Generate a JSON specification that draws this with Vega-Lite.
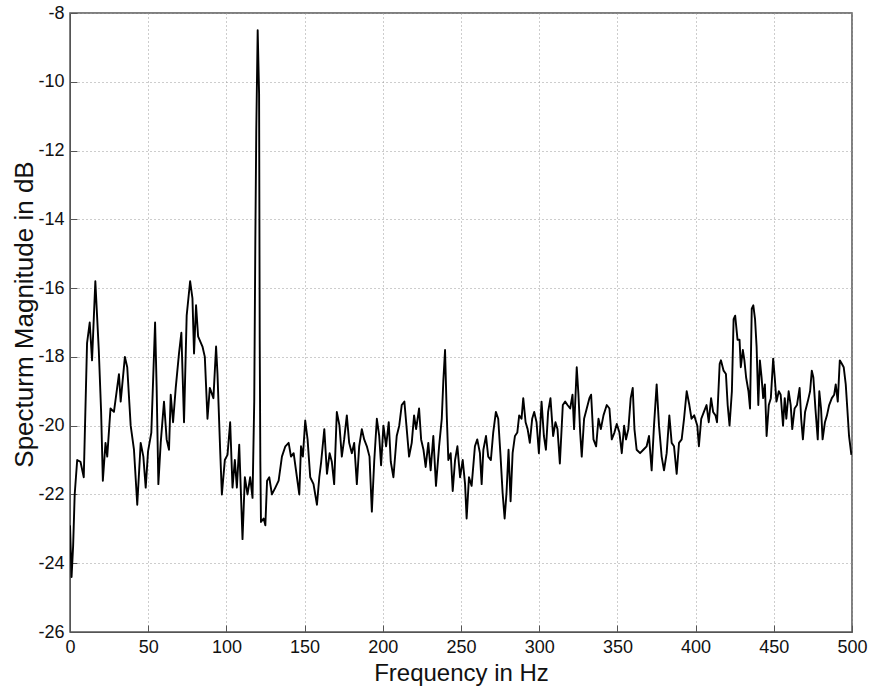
{
  "$schema": "https://vega.github.io/schema/vega-lite/v6.json",
  "width": 782,
  "height": 619,
  "autosize": {"type": "none"},
  "padding": {"left": 70, "top": 13, "right": 18, "bottom": 58},
  "background": "white",
  "config": {
    "view": {"stroke": "#555555", "strokeWidth": 1.5},
    "axis": {
      "labelFont": "Liberation Sans",
      "titleFont": "Liberation Sans",
      "labelFontSize": 18,
      "titleFontWeight": "normal",
      "labelColor": "#111111",
      "titleColor": "#111111",
      "domainColor": "#555555",
      "tickColor": "#555555",
      "tickSize": -7,
      "labelFlush": false,
      "labelOverlap": false,
      "gridColor": "#9a9a9a",
      "gridDash": [1, 3],
      "gridWidth": 1
    }
  },
  "data": {"values": [
    {"f":0,"db":-22.9},{"f":1,"db":-24.4},{"f":2,"db":-23.5},{"f":3,"db":-22.0},{"f":4.6,"db":-21.0},{"f":6.7,"db":-21.05},{"f":8.8,"db":-21.5},{"f":10.9,"db":-17.6},{"f":12.6,"db":-17.0},{"f":14.1,"db":-18.1},{"f":16.2,"db":-15.8},{"f":18.4,"db":-17.8},{"f":19.9,"db":-19.6},{"f":21.0,"db":-21.6},{"f":22.7,"db":-20.5},{"f":23.8,"db":-20.9},{"f":25.9,"db":-19.5},{"f":28.1,"db":-19.6},{"f":31.3,"db":-18.5},{"f":32.4,"db":-19.3},{"f":35.1,"db":-18.0},{"f":36.6,"db":-18.3},{"f":38.8,"db":-20.0},{"f":40.9,"db":-20.7},{"f":43.0,"db":-22.3},{"f":45.2,"db":-20.5},{"f":46.9,"db":-20.9},{"f":48.4,"db":-21.8},{"f":49.9,"db":-20.75},{"f":52.0,"db":-20.2},{"f":54.4,"db":-17.0},{"f":55.4,"db":-18.9},{"f":56.5,"db":-21.7},{"f":58.0,"db":-20.5},{"f":60.1,"db":-19.3},{"f":61.8,"db":-20.4},{"f":63.3,"db":-20.7},{"f":64.4,"db":-19.1},{"f":65.9,"db":-19.9},{"f":67.6,"db":-18.9},{"f":69.7,"db":-17.9},{"f":71.2,"db":-17.3},{"f":72.9,"db":-19.9},{"f":74.6,"db":-16.8},{"f":76.8,"db":-15.8},{"f":78.3,"db":-16.3},{"f":79.3,"db":-17.9},{"f":80.6,"db":-16.5},{"f":81.9,"db":-17.4},
    {"f":84.7,"db":-17.7},{"f":86.2,"db":-18.0},{"f":87.9,"db":-19.8},{"f":89.4,"db":-18.9},{"f":91.7,"db":-19.2},{"f":93.4,"db":-17.7},{"f":94.3,"db":-18.5},{"f":96.0,"db":-20.7},{"f":97.1,"db":-22.0},{"f":99.0,"db":-21.0},{"f":100.7,"db":-20.85},{"f":102.4,"db":-19.9},{"f":103.9,"db":-21.8},{"f":105.4,"db":-21.0},{"f":106.7,"db":-21.8},{"f":108.2,"db":-20.55},{"f":110.3,"db":-23.3},{"f":111.8,"db":-21.5},{"f":113.5,"db":-22.0},{"f":115.2,"db":-21.5},{"f":116.7,"db":-22.1},{"f":117.8,"db":-19.3},
    {"f":118.5,"db":-14.6},{"f":119.1,"db":-11.4},{"f":120.0,"db":-8.5},{"f":120.9,"db":-10.35},{"f":121.3,"db":-17.5},{"f":121.7,"db":-21.05},{"f":122.1,"db":-22.8},{"f":123.8,"db":-22.7},{"f":124.9,"db":-22.9},
    {"f":126.0,"db":-21.6},{"f":127.4,"db":-21.5},{"f":129.1,"db":-22.0},{"f":131.3,"db":-21.8},{"f":133.4,"db":-21.6},{"f":135.5,"db":-20.9},{"f":137.7,"db":-20.6},{"f":139.8,"db":-20.5},{"f":141.3,"db":-20.9},{"f":143.0,"db":-20.8},{"f":145.1,"db":-21.5},{"f":146.6,"db":-22.0},{"f":147.7,"db":-20.6},{"f":148.9,"db":-20.9},{"f":150.4,"db":-19.85},{"f":151.9,"db":-20.4},{"f":153.6,"db":-21.5},{"f":155.7,"db":-21.7},{"f":157.9,"db":-22.3},{"f":159.4,"db":-21.5},{"f":160.6,"db":-21.05},{"f":162.6,"db":-20.1},{"f":164.3,"db":-21.4},{"f":166.0,"db":-20.8},{"f":167.4,"db":-21.05},{"f":168.9,"db":-21.7},{"f":170.6,"db":-19.6},{"f":172.3,"db":-20.0},{"f":173.8,"db":-20.9},{"f":175.3,"db":-20.4},{"f":177.0,"db":-19.7},{"f":178.5,"db":-20.5},{"f":180.2,"db":-20.8},{"f":181.7,"db":-20.5},{"f":183.4,"db":-21.7},{"f":184.9,"db":-20.6},{"f":186.6,"db":-20.1},{"f":188.1,"db":-20.4},{"f":189.8,"db":-20.6},{"f":191.5,"db":-20.9},{"f":193.0,"db":-22.5},{"f":194.5,"db":-21.05},{"f":196.2,"db":-19.8},{"f":197.7,"db":-20.3},{"f":198.9,"db":-21.15},{"f":200.4,"db":-20.0},{"f":202.1,"db":-20.6},{"f":203.8,"db":-19.9},{"f":205.1,"db":-21.05},{"f":206.8,"db":-21.5},{"f":208.9,"db":-20.3},{"f":210.5,"db":-20.0},
    {"f":212.1,"db":-19.4},{"f":213.8,"db":-19.3},{"f":215.3,"db":-20.1},{"f":216.8,"db":-20.9},{"f":218.5,"db":-20.5},{"f":220.0,"db":-19.7},{"f":221.3,"db":-20.1},{"f":223.2,"db":-19.5},{"f":224.5,"db":-20.4},{"f":226.0,"db":-20.7},{"f":227.4,"db":-21.2},{"f":229.1,"db":-20.5},{"f":230.6,"db":-21.3},{"f":232.3,"db":-20.3},{"f":234.0,"db":-21.75},{"f":236.0,"db":-20.6},{"f":237.7,"db":-19.8},{"f":238.7,"db":-18.7},{"f":239.8,"db":-17.8},{"f":240.9,"db":-19.7},{"f":241.9,"db":-21.0},{"f":243.4,"db":-20.8},{"f":244.7,"db":-21.9},{"f":246.2,"db":-21.0},{"f":247.7,"db":-20.6},{"f":249.4,"db":-21.5},{"f":251.1,"db":-21.0},{"f":252.6,"db":-21.7},{"f":253.6,"db":-22.7},{"f":255.1,"db":-21.5},{"f":256.8,"db":-21.75},{"f":258.9,"db":-20.6},{"f":260.4,"db":-20.4},{"f":262.1,"db":-20.8},{"f":263.2,"db":-21.7},{"f":264.3,"db":-20.7},{"f":266.0,"db":-20.3},{"f":267.4,"db":-20.9},{"f":269.1,"db":-21.0},{"f":270.6,"db":-20.2},{"f":272.3,"db":-19.6},{"f":273.8,"db":-19.8},{"f":275.3,"db":-20.9},{"f":276.6,"db":-21.95},{"f":277.9,"db":-22.7},{"f":279.1,"db":-21.95},{"f":280.4,"db":-20.7},{"f":281.7,"db":-22.2},{"f":283.0,"db":-20.8},{"f":284.5,"db":-20.3},{"f":286.0,"db":-20.2},{"f":287.2,"db":-19.7},{"f":288.7,"db":-19.8},{"f":289.8,"db":-19.2},{"f":291.3,"db":-19.9},{"f":292.6,"db":-20.1},{"f":294.0,"db":-20.5},{"f":295.5,"db":-19.8},{"f":296.8,"db":-19.6},{"f":298.3,"db":-19.9},{"f":299.8,"db":-20.8},{"f":301.5,"db":-19.3},{"f":303.0,"db":-20.3},{"f":304.3,"db":-20.7},{"f":305.7,"db":-19.6},{"f":307.2,"db":-19.2},{"f":308.9,"db":-20.3},{"f":310.4,"db":-19.9},{"f":311.7,"db":-20.1},{"f":313.2,"db":-21.1},
    {"f":315.1,"db":-19.4},{"f":316.6,"db":-19.3},{"f":318.1,"db":-19.4},{"f":319.8,"db":-19.5},{"f":321.3,"db":-19.1},{"f":322.3,"db":-20.1},{"f":324.0,"db":-18.3},{"f":325.1,"db":-19.1},{"f":326.2,"db":-20.2},{"f":327.2,"db":-20.9},{"f":328.7,"db":-19.8},{"f":330.4,"db":-19.5},{"f":332.1,"db":-19.2},{"f":333.2,"db":-19.1},{"f":334.7,"db":-20.4},{"f":336.4,"db":-20.6},{"f":337.9,"db":-19.8},{"f":339.4,"db":-20.1},{"f":341.1,"db":-19.7},{"f":343.2,"db":-19.4},{"f":344.9,"db":-19.5},{"f":346.4,"db":-20.4},{"f":348.1,"db":-20.2},{"f":349.6,"db":-19.95},{"f":351.3,"db":-20.2},{"f":352.8,"db":-20.8},{"f":354.3,"db":-20.0},{"f":355.5,"db":-20.4},{"f":357.0,"db":-20.1},{"f":358.5,"db":-19.2},{"f":359.8,"db":-18.9},{"f":360.9,"db":-20.1},{"f":362.3,"db":-20.7},{"f":364.5,"db":-20.8},{"f":366.6,"db":-20.7},{"f":368.7,"db":-20.6},{"f":370.2,"db":-20.3},{"f":371.9,"db":-21.3},{"f":373.4,"db":-20.0},{"f":375.1,"db":-18.8},{"f":376.6,"db":-20.0},{"f":378.3,"db":-20.9},{"f":379.8,"db":-21.3},{"f":381.5,"db":-20.8},{"f":383.2,"db":-19.7},{"f":384.7,"db":-20.5},{"f":386.2,"db":-20.6},{"f":387.9,"db":-21.4},{"f":389.4,"db":-20.5},{"f":391.1,"db":-20.4},{"f":392.6,"db":-19.8},{"f":394.3,"db":-19.0},{"f":396.0,"db":-19.4},{"f":397.4,"db":-19.8},{"f":399.1,"db":-19.7},
    {"f":401.1,"db":-20.0},{"f":402.1,"db":-20.6},{"f":403.6,"db":-19.8},{"f":405.3,"db":-19.6},{"f":407.0,"db":-19.4},{"f":408.4,"db":-19.9},{"f":409.9,"db":-19.2},{"f":411.2,"db":-19.6},{"f":412.7,"db":-19.7},{"f":413.7,"db":-19.9},{"f":415.4,"db":-18.2},{"f":416.2,"db":-18.1},{"f":417.9,"db":-18.4},{"f":419.4,"db":-18.5},{"f":420.5,"db":-19.4},{"f":421.7,"db":-20.0},{"f":423.2,"db":-19.0},{"f":424.3,"db":-16.9},{"f":425.3,"db":-16.8},{"f":426.8,"db":-17.5},{"f":428.1,"db":-17.5},{"f":428.9,"db":-18.3},{"f":430.2,"db":-17.8},{"f":431.2,"db":-18.1},{"f":432.3,"db":-18.6},{"f":433.8,"db":-19.0},{"f":434.8,"db":-19.5},{"f":435.9,"db":-16.6},{"f":436.9,"db":-16.5},{"f":438.0,"db":-16.9},{"f":439.0,"db":-17.7},{"f":440.1,"db":-19.4},{"f":441.1,"db":-18.1},{"f":442.2,"db":-18.6},{"f":443.2,"db":-19.2},{"f":444.3,"db":-18.8},{"f":445.4,"db":-20.3},{"f":446.8,"db":-19.4},{"f":448.1,"db":-19.2},{"f":449.6,"db":-18.05},{"f":450.6,"db":-18.6},{"f":451.7,"db":-19.3},{"f":453.2,"db":-19.0},{"f":454.4,"db":-19.1},{"f":455.9,"db":-20.0},{"f":457.0,"db":-19.2},{"f":458.0,"db":-19.8},{"f":459.5,"db":-19.0},{"f":460.8,"db":-19.4},{"f":461.8,"db":-20.1},{"f":463.3,"db":-19.5},{"f":464.8,"db":-19.4},{"f":466.5,"db":-18.9},{"f":467.5,"db":-19.8},{"f":468.6,"db":-20.4},{"f":470.0,"db":-19.6},{"f":471.7,"db":-19.3},{"f":473.2,"db":-19.0},{"f":474.3,"db":-18.4},{"f":475.3,"db":-18.6},{"f":476.6,"db":-19.5},{"f":478.1,"db":-20.4},{"f":479.1,"db":-19.0},{"f":480.2,"db":-19.5},{"f":481.2,"db":-20.4},{"f":482.7,"db":-19.9},{"f":484.0,"db":-19.7},{"f":485.4,"db":-19.4},{"f":487.1,"db":-19.2},{"f":488.6,"db":-19.1},{"f":489.6,"db":-18.8},{"f":490.9,"db":-19.3},{"f":492.2,"db":-18.1},{"f":493.5,"db":-18.2},{"f":494.7,"db":-18.3},{"f":496.0,"db":-18.8},{"f":497.0,"db":-19.5},{"f":498.1,"db":-20.3},{"f":499.6,"db":-20.85}
  ]},
  "mark": {"type": "line", "color": "#000000", "strokeWidth": 1.9, "strokeJoin": "round", "clip": true},
  "encoding": {
    "x": {
      "field": "f", "type": "quantitative",
      "scale": {"domain": [0, 500], "nice": false, "zero": false},
      "axis": {"title": "Frequency in Hz", "values": [0,50,100,150,200,250,300,350,400,450,500], "grid": true, "labelPadding": 13, "labelBaseline": "top", "labelExpr": "'' + datum.value", "titleFontSize": 24, "titleX": 391, "titleY": 41, "titleBaseline": "middle", "titleAlign": "center"}
    },
    "y": {
      "field": "db", "type": "quantitative",
      "scale": {"domain": [-26, -8], "nice": false, "zero": false},
      "axis": {"title": "Specturm Magnitude in dB", "values": [-26,-24,-22,-20,-18,-16,-14,-12,-10,-8], "grid": true, "labelPadding": 13, "labelExpr": "'' + datum.value", "titleFontSize": 26, "titleX": -46, "titleY": 301, "titleBaseline": "middle", "titleAlign": "center", "titleAngle": -90}
    }
  }
}
